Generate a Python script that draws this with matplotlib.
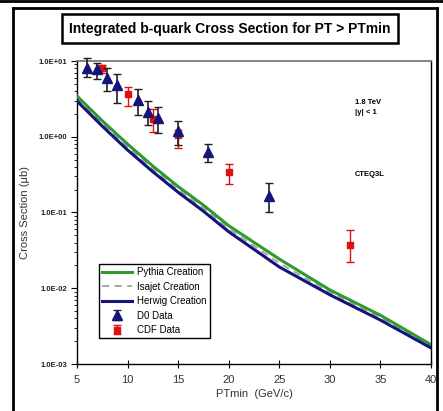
import matplotlib
matplotlib.use("Agg")
import matplotlib.pyplot as plt
from matplotlib.patches import Rectangle
from matplotlib.lines import Line2D
from matplotlib.ticker import LogLocator, FixedLocator, NullFormatter

plt.rcParams['font.family'] = ['Liberation Sans', 'DejaVu Sans']

# ---- data ----
pt_curve = [5, 7.5, 10, 12.5, 15, 17.5, 20, 25, 30, 35, 40]
pythia = [3.45, 1.62, 0.80, 0.41, 0.22, 0.125, 0.067, 0.0243, 0.0095, 0.0044, 0.0018]
isajet = [3.2, 1.50, 0.73, 0.375, 0.20, 0.114, 0.061, 0.0215, 0.0088, 0.0041, 0.0017]
herwig = [2.96, 1.38, 0.668, 0.345, 0.185, 0.104, 0.0557, 0.0191, 0.0082, 0.0038, 0.00163]

d0_pt = [6, 7, 8, 9, 11, 12, 13, 15, 18, 24]
d0_val = [8.0, 7.8, 6.0, 4.8, 3.05, 2.14, 1.78, 1.20, 0.624, 0.165]
d0_hi = [10.8, 9.5, 8.0, 6.7, 4.27, 2.99, 2.49, 1.63, 0.80, 0.243]
d0_lo = [6.1, 5.7, 4.06, 2.81, 1.94, 1.43, 1.13, 0.78, 0.469, 0.101]

cdf_pt = [7.5, 10, 12.5, 15, 20, 32]
cdf_val = [8.0, 3.66, 1.71, 1.05, 0.34, 0.0372]
cdf_hi = [8.85, 4.49, 2.30, 1.23, 0.437, 0.0588]
cdf_lo = [6.88, 2.55, 1.17, 0.705, 0.236, 0.0224]

x_ticks = [5, 10, 15, 20, 25, 30, 35, 40]
y_ticks = [1e-3, 1e-2, 1e-1, 1e0, 1e1]
y_tick_labels = ["1.0E-03", "1.0E-02", "1.0E-01", "1.0E+00", "1.0E+01"]

title = "Integrated b-quark Cross Section for PT > PTmin"
xlabel = "PTmin  (GeV/c)"
ylabel = "Cross Section (\u03bcb)"
notes = ["1.8 TeV", "|y| < 1"]
note2 = "CTEQ3L"

W, H = 443, 411
fig = plt.figure(figsize=(W / 100, H / 100), dpi=100)

def fx(px):
    return px / W

def fy(py):
    return 1 - py / H

ax = fig.add_axes([fx(77), fy(364), fx(431) - fx(77), fy(61) - fy(364)])

navy = "#14147a"
green = "#2f9a2f"
red = "#e01010"

ax.plot(pt_curve, isajet, color="#a0a0a0", lw=1.3, ls=(0, (4, 3)), label="Isajet Creation", zorder=2)
ax.plot(pt_curve, pythia, color=green, lw=2.2, label="Pythia Creation", zorder=3)
ax.plot(pt_curve, herwig, color=navy, lw=2.2, label="Herwig Creation", zorder=3)

cdf_err = [[v - l for v, l in zip(cdf_val, cdf_lo)], [h - v for v, h in zip(cdf_val, cdf_hi)]]
d0_err = [[v - l for v, l in zip(d0_val, d0_lo)], [h - v for v, h in zip(d0_val, d0_hi)]]

ax.errorbar(cdf_pt, cdf_val, yerr=cdf_err, fmt="s", color=red, ecolor=red, ms=5,
            elinewidth=1.0, capsize=3, capthick=1.0, label="CDF Data", zorder=4, clip_on=False)
ax.errorbar(d0_pt, d0_val, yerr=d0_err, fmt="^", color=navy, ecolor="#202020", ms=6.5,
            elinewidth=1.2, capsize=3, capthick=1.0, label="D0 Data", zorder=5, clip_on=False)

ax.set_yscale("log")
ax.set_xlim(5, 40)
ax.set_ylim(1e-3, 1e1)

ax.xaxis.set_major_locator(FixedLocator(x_ticks))
ax.set_xticklabels([str(t) for t in x_ticks], fontsize=8, color="#333333")
ax.tick_params(axis="x", direction="inout", length=6, width=0.8, pad=5)

ax.yaxis.set_major_locator(FixedLocator(y_ticks))
ax.set_yticklabels(y_tick_labels, fontsize=5.5, fontweight="bold", color="#222222")
ax.yaxis.set_minor_locator(LogLocator(base=10, subs=[2, 3, 4, 5, 6, 7, 8, 9]))
ax.yaxis.set_minor_formatter(NullFormatter())
ax.tick_params(axis="y", which="major", direction="out", length=4, width=0.8, pad=3)
ax.tick_params(axis="y", which="minor", direction="out", length=2.5, width=0.6)

for s in ["left", "bottom", "right"]:
    ax.spines[s].set_color("black")
    ax.spines[s].set_linewidth(1.0)
ax.spines["top"].set_color("#707070")
ax.spines["top"].set_linewidth(1.2)

ax.set_xlabel(xlabel, fontsize=8, color="#333333", labelpad=3)
ax.set_ylabel(ylabel, fontsize=8, color="#333333", labelpad=6)

note_x = 32.5
ax.text(note_x, 10 ** (1 - (102 - 61) / 75.75), notes[0], fontsize=5.5, fontweight="bold", va="center")
ax.text(note_x, 10 ** (1 - (113 - 61) / 75.75), notes[1], fontsize=5.5, fontweight="bold", va="center")
ax.text(note_x, 10 ** (1 - (175 - 61) / 75.75), note2, fontsize=5.5, fontweight="bold", va="center")

handles, labels = ax.get_legend_handles_labels()
order = ["Pythia Creation", "Isajet Creation", "Herwig Creation", "D0 Data", "CDF Data"]
hmap = dict(zip(labels, handles))
leg = ax.legend([hmap[k] for k in order], order, loc="upper left",
                bbox_to_anchor=((99 - 77) / 354, (364 - 264) / 303), fontsize=7,
                frameon=True, fancybox=False, edgecolor="black", framealpha=1,
                handlelength=3.0, borderpad=0.35, labelspacing=0.45, handletextpad=0.6,
                borderaxespad=0)
leg.get_frame().set_linewidth(1.0)

# outer frame
fig.add_artist(Line2D([fx(0), fx(W)], [fy(1), fy(1)], color="black", lw=2))
fig.add_artist(Line2D([fx(13), fx(13)], [fy(8), fy(H)], color="black", lw=2))
fig.add_artist(Line2D([fx(437), fx(437)], [fy(8), fy(H)], color="black", lw=2))
fig.add_artist(Line2D([fx(13), fx(437)], [fy(8), fy(8)], color="black", lw=2))

# title box
fig.add_artist(Rectangle((fx(62), fy(43)), fx(398) - fx(62), fy(14) - fy(43),
                         transform=fig.transFigure, fill=False, edgecolor="black", lw=1.8))
fig.text(fx(230), fy(28.5), title, ha="center", va="center", fontsize=10, fontweight="bold")

fig.savefig("out.png", dpi=100)
